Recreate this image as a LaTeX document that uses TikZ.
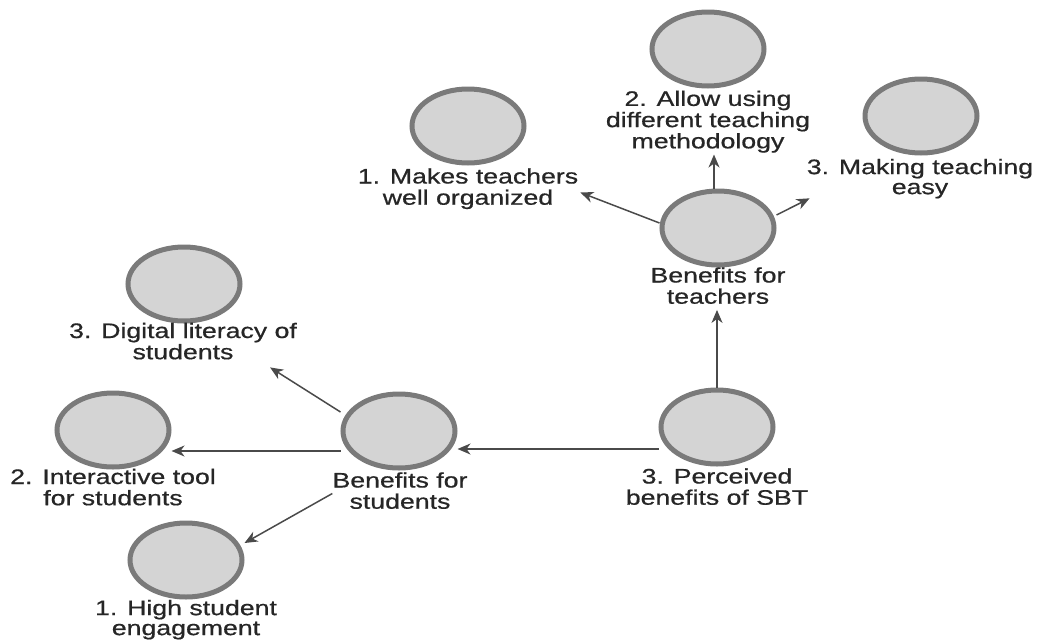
\documentclass[tikz,border=0pt]{standalone}
\usepackage{fontspec}
\setmainfont{Liberation Sans}
\newfontfamily\capfont[FakeBold=0.6]{Liberation Sans}
\usetikzlibrary{shapes.geometric,arrows.meta}
\definecolor{ringgray}{HTML}{7A7A7A}
\definecolor{fillgray}{HTML}{D4D4D4}
\definecolor{arrowgray}{HTML}{4A4A4A}
\newcommand{\lbl}[1]{\scalebox{1.27}[1]{\begin{tabular}{@{}c@{}}#1\end{tabular}}}
\tikzset{
  bubble/.style={ellipse, draw=ringgray, fill=fillgray, line width=5pt,
    minimum width=112pt, minimum height=74pt, inner sep=0pt},
  caption/.style={inner sep=0pt, text=black!85,
    font=\capfont\fontsize{21}{20}\selectfont},
  conn/.style={draw=arrowgray, line width=1.5pt,
    -{Stealth[length=13pt,width=11pt,inset=4pt]}}
}
\begin{document}
\begin{tikzpicture}[x=1pt,y=-1pt]
\useasboundingbox (0,0) rectangle (1037,641);
% bubbles
\node[bubble] (allow) at (708,49) {};
\node[bubble] (makes) at (468,126) {};
\node[bubble] (making) at (921,116) {};
\node[bubble] (bft) at (718,228) {};
\node[bubble] (perc) at (717,427) {};
\node[bubble] (bfs) at (399,431) {};
\node[bubble] (digit) at (184,284) {};
\node[bubble] (inter) at (113,430) {};
\node[bubble] (high) at (186,560) {};
% captions
\node[caption] (allowl) at (708,122.5) {\lbl{2. Allow using\\different teaching\\methodology}};
\node[caption] (makesl) at (468,189.5) {\lbl{1. Makes teachers\\well organized}};
\node[caption] (makingl) at (920,179.5) {\lbl{3. Making teaching\\easy}};
\node[caption] (bftl) at (718,288.5) {\lbl{Benefits for\\teachers}};
\node[caption] (percl) at (717,489.5) {\lbl{3. Perceived\\benefits of SBT}};
\node[caption] (bfsl) at (400,493.5) {\lbl{Benefits for\\students}};
\node[caption] (digitl) at (183,344) {\lbl{3. Digital literacy of\\students}};
\node[caption] (interl) at (113,490) {\lbl{2. Interactive tool\\for students}};
\node[caption] (highl) at (186,620.5) {\lbl{1. High student\\engagement}};
% connectors
\draw[conn] (perc.north) -- (perc.north |- bftl.south);
\draw[conn] ([yshift=-22pt]perc.west) -- ([yshift=-22pt]perc.west -| bfs.east);
\draw[conn] ([yshift=-20pt]bfs.west) -- ([yshift=-20pt]bfs.west -| inter.east);
\draw[conn] ([yshift=19pt]bfs.west) -- ([xshift=-27pt,yshift=-2pt]digitl.south east);
\draw[conn] (bfsl.west) -- ([yshift=17pt]high.east);
\draw[conn] ([yshift=5pt]bft.west) -- ([xshift=2pt,yshift=-3pt]makesl.east);
\draw[conn] ([xshift=-4pt]bft.north) -- ([xshift=-4pt]bft.north |- allowl.south);
\draw[conn] ([yshift=13pt]bft.east) -- ([xshift=3pt,yshift=2pt]makingl.south west);
\end{tikzpicture}
\end{document}
